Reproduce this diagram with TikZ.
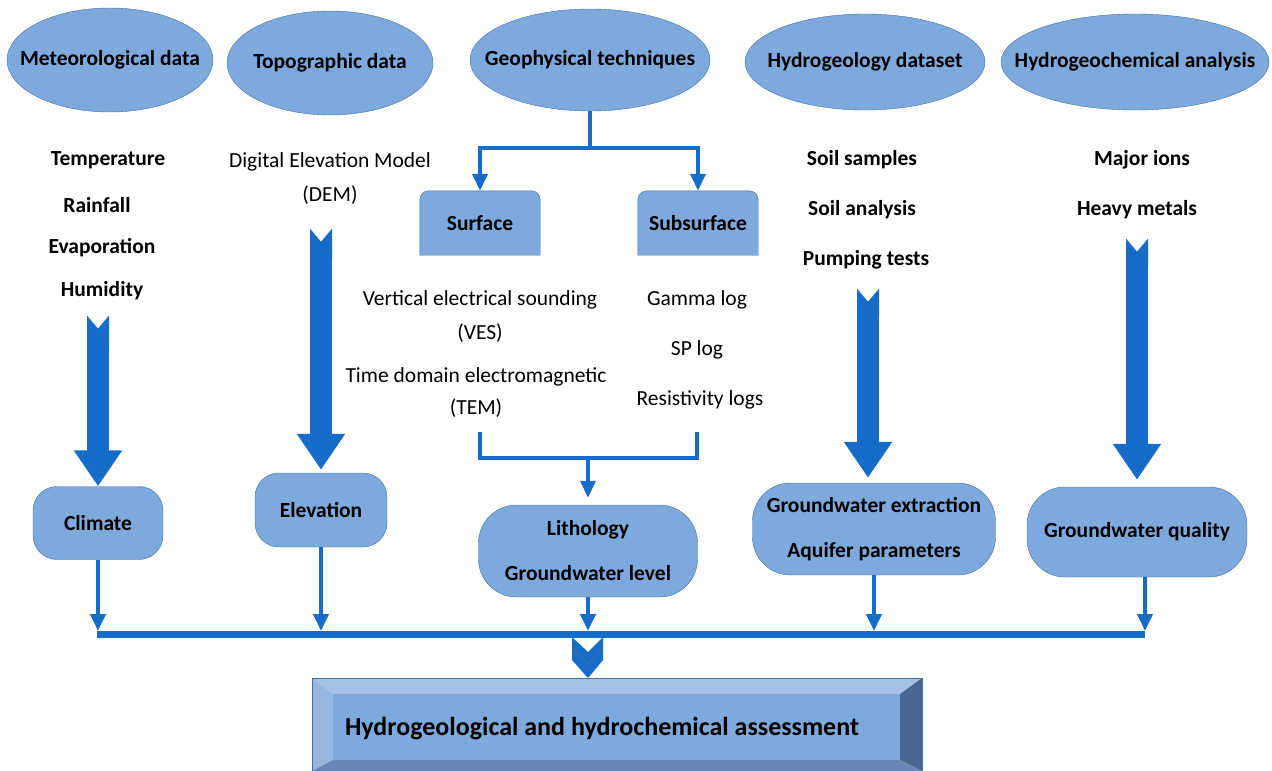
\documentclass[tikz,border=0pt]{standalone}
\usepackage{fontspec}
\setmainfont{Carlito}
\usetikzlibrary{shapes.geometric,arrows.meta,calc,backgrounds}
\definecolor{boxfill}{RGB}{126,169,220}
\definecolor{boxline}{RGB}{65,113,156}
\definecolor{flow}{RGB}{22,108,200}
\definecolor{bevtop}{RGB}{164,193,230}
\definecolor{bevleft}{RGB}{150,182,224}
\definecolor{bevright}{RGB}{72,102,146}
\definecolor{bevbot}{RGB}{104,136,186}
\tikzset{
  ell/.style={ellipse, draw=boxline, fill=boxfill, inner sep=0pt},
  rbox/.style={rectangle, draw=boxline, fill=boxfill, rounded corners=24pt, inner sep=0pt, align=center, font=\bfseries},
  item/.style={font=\bfseries},
  link/.style={draw=flow, line width=4pt},
  conn/.style={link, -{Triangle[length=17pt,width=15pt]}},
  blockarr/.style={draw=flow, line width=22pt, {Triangle Cap[reversed,length=13pt]}-{Triangle[length=36pt,width=46pt]}},
}
\begin{document}
\fontsize{21.5}{26}\selectfont
\begin{tikzpicture}[x=1pt,y=-1pt]
    \useasboundingbox (0,0) rectangle (1272,771);
    % sources
    \node[ell, minimum width=206, minimum height=104, label={[item]center:Meteorological data}] (met) at (110, 60) {};
    \node[ell, minimum width=206, minimum height=104, label={[item]center:Topographic data}] (topo) at (330, 63) {};
    \node[ell, minimum width=240, minimum height=102, label={[item]center:Geophysical techniques}] (geo) at (590, 60) {};
    \node[ell, minimum width=240, minimum height=96, label={[item]center:Hydrogeology dataset}] (hyd) at (865, 62) {};
    \node[ell, minimum width=268, minimum height=96, label={[item]center:Hydrogeochemical analysis}] (chem) at (1135, 62) {};
    % lists
    \node[item] (temp) at (108, 160) {Temperature};
    \node[item] (rain) at (97, 205) {Rainfall};
    \node[item] (evap) at (102, 248) {Evaporation};
    \node[item] (hum) at (102, 291) {Humidity};
    \node (dem) at (330, 162) {Digital Elevation Model};
    \node (dem2) at (330, 195) {(DEM)};
    \node (ves) at (480, 300) {Vertical electrical sounding};
    \node (ves2) at (480, 333) {(VES)};
    \node (tem) at (476, 377) {Time domain electromagnetic};
    \node (tem2) at (476, 408) {(TEM)};
    \node (gam) at (697, 300) {Gamma log};
    \node (sp) at (697, 350) {SP log};
    \node (res) at (700, 400) {Resistivity logs};
    \node[item] (soil) at (862, 160) {Soil samples};
    \node[item] (soila) at (862, 210) {Soil analysis};
    \node[item] (pump) at (866, 260) {Pumping tests};
    \node[item] (ions) at (1142, 160) {Major ions};
    \node[item] (heavy) at (1137, 210) {Heavy metals};
    % methods
    \node[item, minimum width=120, minimum height=64] (surf) at (480, 223) {Surface};
    \node[item, minimum width=120, minimum height=64] (subs) at (698, 223) {Subsurface};
    \begin{scope}[on background layer]
        \filldraw[draw=boxline, fill=boxfill] (surf.south west) [rounded corners=9pt] -- (surf.north west) -- (surf.north east) [sharp corners] -- (surf.south east) -- cycle;
        \filldraw[draw=boxline, fill=boxfill] (subs.south west) [rounded corners=9pt] -- (subs.north west) -- (subs.north east) [sharp corners] -- (subs.south east) -- cycle;
    \end{scope}
    % results
    \node[rbox, minimum width=130, minimum height=73] (clim) at (98, 523) {Climate};
    \node[rbox, minimum width=132, minimum height=74] (elev) at (321, 510) {Elevation};
    \node[rbox, minimum width=219, minimum height=92, rounded corners=38pt] (lith) at (588, 551) {Lithology\\[19pt]Groundwater level};
    \node[rbox, minimum width=243, minimum height=92, rounded corners=38pt] (gwe) at (874, 529) {Groundwater extraction\\[19pt]Aquifer parameters};
    \node[rbox, minimum width=220, minimum height=90, rounded corners=38pt] (gwq) at (1137, 532) {Groundwater quality};
    % geophysics tree
    \coordinate (gsplit) at ($(geo.south)+(0,37)$);
    \draw[link] (geo.south) -- (gsplit);
    \draw[conn] (gsplit) -| (surf.north);
    \draw[conn] (gsplit) -| (subs.north);
    \coordinate (vesb) at (480, 432);
    \coordinate (logb) at (697, 432);
    \coordinate (bmid) at (588, 458);
    \draw[link] (vesb) -- ++(0,26) -| (logb);
    \draw[conn, shorten >=7pt] (bmid) -- (lith.north);
    % block arrows
    \draw[blockarr] ($(clim.north |- hum.south)+(0,8)$) -- (clim.north);
    \draw[blockarr, shorten >=3pt] ($(elev.north |- dem2.south)+(0,17)$) -- (elev.north);
    \coordinate (gwetop) at ($(gwe.north)+(-6,0)$);
    \draw[blockarr, shorten >=5pt] ($(gwetop |- pump.south)+(0,12)$) -- (gwetop);
    \draw[blockarr, shorten >=7pt] ($(gwq.north |- heavy.south)+(0,12)$) -- (gwq.north);
    % collecting line
    \coordinate (busl) at (97, 634);
    \coordinate (busr) at (1145, 634);
    \draw[draw=flow, line width=7pt] (busl) -- (busr);
    \coordinate (gwqb) at ($(gwq.south)+(8,0)$);
    \draw[conn, shorten >=3pt] (clim.south) -- (clim.south |- busl);
    \draw[conn, shorten >=3pt] (elev.south) -- (elev.south |- busl);
    \draw[conn, shorten >=3pt] (lith.south) -- (lith.south |- busl);
    \draw[conn, shorten >=3pt] (gwe.south) -- (gwe.south |- busl);
    \draw[conn, shorten >=3pt] (gwqb) -- (gwqb |- busl);
    % chevron
    \fill[flow] (572,637) -- (588,652) -- (603,637) -- (603,660) -- (588,678) -- (572,660) -- cycle;
    \draw[boxline, line width=0.8pt] (572,648) -- (588,664) -- (603,648);
    % assessment box
    \fill[bevtop] (312,678) -- (922,678) -- (900,694) -- (333,694) -- cycle;
    \fill[bevleft] (312,678) -- (333,694) -- (333,760) -- (312,771) -- cycle;
    \fill[bevright] (922,678) -- (922,771) -- (900,760) -- (900,694) -- cycle;
    \fill[bevbot] (312,771) -- (333,760) -- (900,760) -- (922,771) -- cycle;
    \fill[boxfill] (333,694) rectangle (900,760);
    \draw[boxline] (312,678) rectangle (922,771);
    \node[font=\fontsize{26}{30}\selectfont\bfseries] (assess) at (602, 729) {Hydrogeological and hydrochemical assessment};
\end{tikzpicture}
\end{document}
